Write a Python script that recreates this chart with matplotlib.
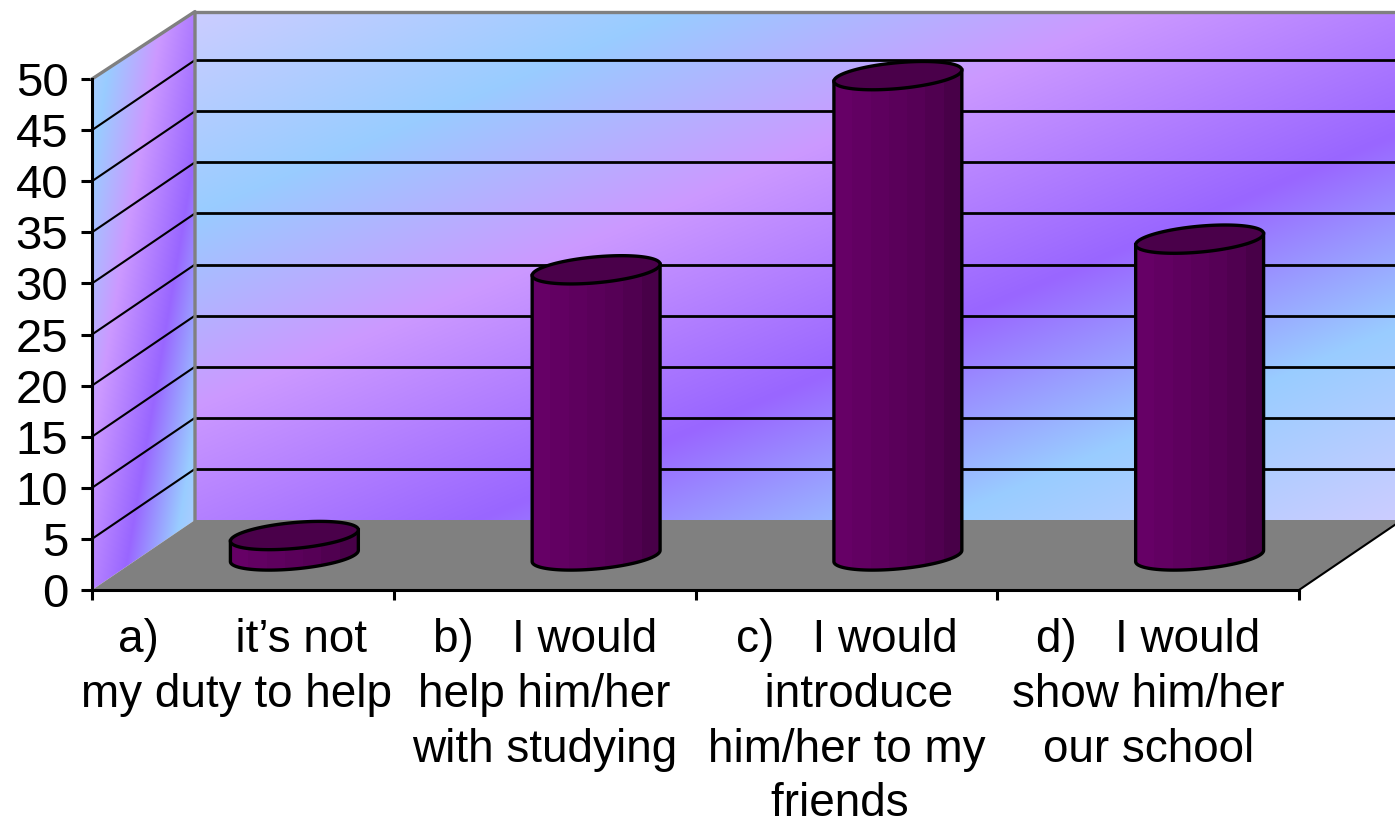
import numpy as np
import matplotlib
matplotlib.use("Agg")
import matplotlib.pyplot as plt
from matplotlib.patches import Polygon
from matplotlib.colors import to_rgb

categories = ["a)      it’s not\nmy duty to help ",
              "b)   I would\nhelp him/her\nwith studying",
              "c)   I would\n  introduce\nhim/her to my\nfriends ",
              "d)   I would\nshow him/her\nour school"]
values = [2, 28, 47, 31]
y_ticks = list(range(0, 55, 5))

W, H = 1395, 818
LEFT, RIGHT, BASE, TOP = 92, 1299, 590, 79
plt.rcParams['font.family'] = ['Liberation Sans', 'DejaVu Sans']

fig = plt.figure(figsize=(W / 100, H / 100), dpi=100, facecolor='white')
ax = fig.add_axes([LEFT / W, 1 - BASE / H, (RIGHT - LEFT) / W, (BASE - TOP) / H])
ax.patch.set_visible(False)
XMAX, YMAX = len(categories), 50
sx = (RIGHT - LEFT) / XMAX
sy = (BASE - TOP) / YMAX
DX, DY = 103 / sx, 70 / sy      # offset of the back wall in data units


def gradient_image(t_func):
    stops = [0, .2, .39, .62, .81, 1]
    cols = np.array([to_rgb(c) for c in
                     ['#CCCCFF', '#99CCFF', '#CC99FF', '#9966FF', '#99CCFF', '#CCCCFF']])
    px, py = np.meshgrid(np.arange(W) + .5, np.arange(H) + .5)
    t = np.clip(t_func(px, py), 0, 1)
    return np.dstack([np.interp(t, stops, cols[:, i]) for i in range(3)])


extent = [-LEFT / sx, (W - LEFT) / sx, (BASE - H) / sy, BASE / sy]


def clipped_image(img, poly_pts, z, ext=extent):
    poly = Polygon(poly_pts, closed=True, transform=ax.transData,
                   fc='none', ec='none')
    ax.add_patch(poly)
    im = ax.imshow(img, extent=ext, origin='upper', aspect='auto',
                   interpolation='nearest', zorder=z)
    im.set_clip_box(fig.bbox)
    im.set_clip_path(poly)
    return im


WALL_TOP = YMAX - 0.25
back_pts = [(DX, DY), (XMAX + DX, DY), (XMAX + DX, WALL_TOP + DY), (DX, WALL_TOP + DY)]
left_pts = [(0, 0), (DX, DY), (DX, WALL_TOP + DY), (0, YMAX)]
floor_pts = [(0, 0), (XMAX, 0), (XMAX + DX, DY), (DX, DY)]

clipped_image(gradient_image(lambda x, y: (0.42 * (x - 195) + (y - 12)) / 1012), back_pts, 1)
clipped_image(gradient_image(lambda x, y: (x + y / 6 - 72) / 240), left_pts, 1)
ax.add_patch(Polygon(floor_pts, closed=True, fc='#808080', ec='none', zorder=2, clip_on=False))

# gridlines on both walls
for v in y_ticks[1:-1]:
    ax.plot([0, DX], [v, v + DY], color='black', lw=1.5, zorder=3, clip_on=False)
    ax.plot([DX, XMAX + DX], [v + DY, v + DY], color='black', lw=2.0, zorder=3, clip_on=False)

# wall borders
ax.plot([0, DX, DX], [YMAX, WALL_TOP + DY, DY], color='#808080', lw=2.4, zorder=3, clip_on=False)
ax.plot([DX, XMAX + DX], [WALL_TOP + DY] * 2, color='#808080', lw=2.4, zorder=3, clip_on=False)
ax.plot([XMAX, XMAX + DX], [0, DY], color='black', lw=1.5, zorder=3, clip_on=False)

# cylinders
A, B, SHEAR, BASE_Y = 0.212, 1.27, 0.55, 3.33
shade_cols = np.array([to_rgb(c) for c in
                       ['#660066', '#620062', '#5E005E', '#5A005A', '#560056', '#500050', '#480048']])
shade = shade_cols[np.newaxis, :, :]
for i, v in enumerate(values):
    cx = i + .5 + DX / 2
    top_y = BASE_Y + v
    t = np.linspace(0, 2 * np.pi, 121)
    ex = cx + A * np.cos(t)
    etop = top_y + SHEAR * np.cos(t) + B * np.sin(t)
    low = np.linspace(np.pi, 2 * np.pi, 61)
    lx = cx + A * np.cos(low)
    ly = BASE_Y + SHEAR * np.cos(low) + B * np.sin(low)
    body = [(cx - A, top_y - SHEAR)] + list(zip(lx, ly)) + [(cx + A, top_y + SHEAR)]
    # side of the cylinder, shaded from left to right
    clipped_image(shade, body, 4 + i * .01,
                  ext=[cx - A, cx + A, BASE_Y - 3, top_y + 3])
    ax.plot(*zip(*body), color='black', lw=2.4, zorder=5 + i * .01, clip_on=False,
            solid_joinstyle='miter')
    ax.fill(ex, etop, facecolor='#4A004A', edgecolor='black', lw=2.4,
            zorder=6 + i * .01, clip_on=False)

# real axes
ax.set_xlim(0, XMAX)
ax.set_ylim(0, YMAX)
for s in ('top', 'right'):
    ax.spines[s].set_visible(False)
for s in ('left', 'bottom'):
    ax.spines[s].set_linewidth(2.2)
    ax.spines[s].set_zorder(7)
ax.set_yticks(y_ticks)
ax.set_xticks(np.arange(XMAX + 1))
ax.set_xticklabels([])
ax.set_xticks(np.arange(XMAX) + .5, minor=True)
ax.set_xticklabels(categories, minor=True, fontsize=33, linespacing=1.31, va='top')
ax.tick_params(axis='x', which='major', length=7.5, width=2.2)
ax.tick_params(axis='x', which='minor', length=0, pad=20.5)
ax.tick_params(axis='y', length=8, width=2.2, pad=9, labelsize=34)

fig.savefig('out.png', dpi=100, facecolor='white')
